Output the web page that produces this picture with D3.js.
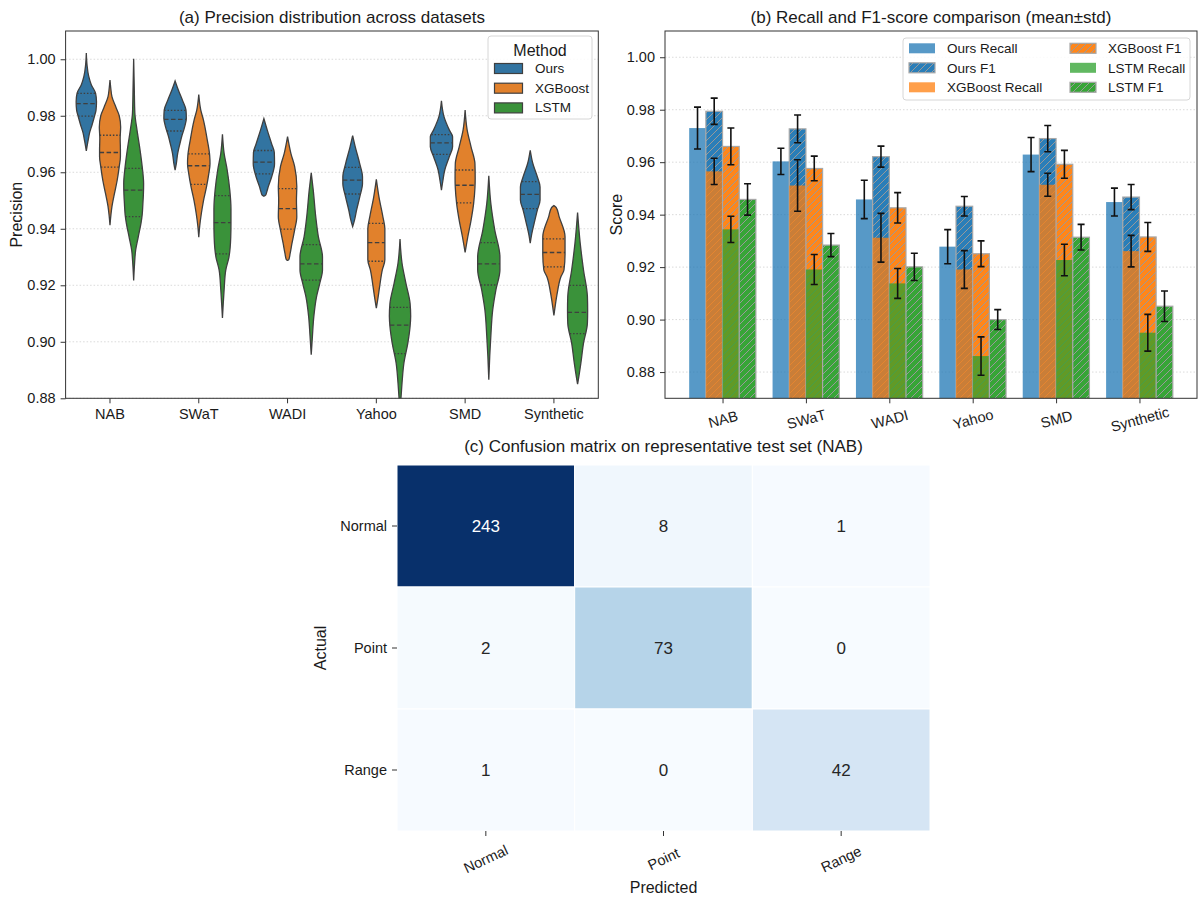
<!DOCTYPE html>
<html lang="en">
<head>
<meta charset="utf-8">
<title>Precision, recall and confusion matrix</title>
<script src="https://d3js.org/d3.v7.min.js"></script>
<style>
  body { margin: 0; background: #fff; }
  svg text { font-family: "Liberation Sans", Arial, sans-serif; fill: #1a1a1a; }
</style>
</head>
<body>
<svg id="chart" width="1200" height="898"></svg>
<script>
var datasets = ["NAB", "SWaT", "WADI", "Yahoo", "SMD", "Synthetic"];
var methods = ["Ours", "XGBoost", "LSTM"];
var precisionTicks = [0.88, 0.90, 0.92, 0.94, 0.96, 0.98, 1.00];
var scoreTicks = [0.88, 0.90, 0.92, 0.94, 0.96, 0.98, 1.00];

// violin outlines: [precision, relative density]
var oursViolin = [
  [[1.0022,0],[0.998,0.06],[0.994,0.2],[0.991,0.42],[0.988,0.78],[0.985,0.86],[0.982,0.82],[0.980,0.7],[0.977,0.5],[0.974,0.28],[0.971,0.14],[0.9676,0]],
  [[0.9923,0],[0.989,0.28],[0.9855,0.62],[0.982,0.92],[0.979,0.95],[0.976,0.8],[0.973,0.58],[0.970,0.4],[0.9667,0.22],[0.963,0.1],[0.9608,0]],
  [[0.979,0],[0.975,0.28],[0.970,0.66],[0.967,0.88],[0.963,0.9],[0.9584,0.66],[0.955,0.38],[0.953,0.24],[0.952,0.16],[0.9515,0]],
  [[0.973,0],[0.969,0.22],[0.963,0.6],[0.9584,0.83],[0.956,0.83],[0.9513,0.6],[0.9466,0.33],[0.943,0.15],[0.9408,0]],
  [[0.9853,0],[0.9796,0.22],[0.975,0.66],[0.9726,0.94],[0.969,0.94],[0.9655,0.66],[0.9608,0.28],[0.957,0.12],[0.9537,0]],
  [[0.9678,0],[0.9631,0.22],[0.9584,0.6],[0.9548,0.83],[0.9502,0.83],[0.9466,0.6],[0.9419,0.33],[0.938,0.12],[0.9349,0]]
];
var xgbViolin = [
  [[0.9926,0],[0.990,0.06],[0.9867,0.17],[0.983,0.5],[0.980,0.78],[0.976,0.9],[0.972,0.86],[0.968,0.88],[0.9655,0.88],[0.962,0.78],[0.957,0.6],[0.9525,0.38],[0.948,0.17],[0.945,0.08],[0.9413,0]],
  [[0.9875,0],[0.982,0.17],[0.9784,0.4],[0.9714,0.72],[0.966,0.92],[0.963,0.95],[0.9596,0.85],[0.955,0.66],[0.950,0.4],[0.9455,0.22],[0.941,0.08],[0.937,0]],
  [[0.9726,0],[0.9667,0.28],[0.962,0.6],[0.955,0.78],[0.950,0.75],[0.9443,0.78],[0.9396,0.6],[0.935,0.38],[0.9313,0.22],[0.929,0.1],[0.9288,0]],
  [[0.9575,0],[0.9513,0.22],[0.9443,0.55],[0.940,0.72],[0.935,0.72],[0.929,0.72],[0.9254,0.5],[0.9196,0.28],[0.915,0.12],[0.9119,0]],
  [[0.982,0],[0.975,0.17],[0.969,0.5],[0.963,0.83],[0.958,0.85],[0.9545,0.83],[0.949,0.72],[0.943,0.5],[0.937,0.22],[0.9316,0]],
  [[0.9482,0],[0.9475,0.2],[0.9443,0.44],[0.9372,0.94],[0.931,0.94],[0.9254,0.85],[0.9231,0.6],[0.9172,0.28],[0.913,0.12],[0.9093,0]]
];
var lstmViolin = [
  [[1.0002,0],[0.99,0.05],[0.981,0.1],[0.975,0.28],[0.969,0.5],[0.962,0.72],[0.956,0.84],[0.952,0.82],[0.949,0.78],[0.945,0.72],[0.942,0.62],[0.937,0.38],[0.9325,0.17],[0.928,0.08],[0.9217,0]],
  [[0.9734,0],[0.9667,0.14],[0.9608,0.4],[0.9537,0.62],[0.947,0.72],[0.942,0.72],[0.937,0.7],[0.930,0.55],[0.9254,0.28],[0.9184,0.14],[0.913,0.06],[0.9084,0]],
  [[0.9598,0],[0.9537,0.17],[0.9443,0.38],[0.9372,0.6],[0.930,0.95],[0.9254,0.95],[0.9207,0.72],[0.916,0.45],[0.909,0.22],[0.902,0.1],[0.8954,0]],
  [[0.9364,0],[0.9278,0.17],[0.9207,0.5],[0.9136,0.85],[0.909,0.9],[0.9054,0.85],[0.8995,0.66],[0.8925,0.33],[0.8854,0.17],[0.88,0.08],[0.876,0]],
  [[0.9588,0],[0.949,0.17],[0.9396,0.5],[0.930,0.94],[0.9254,0.94],[0.9184,0.6],[0.9113,0.33],[0.9019,0.17],[0.895,0.08],[0.8866,0]],
  [[0.9457,0],[0.9349,0.22],[0.9254,0.5],[0.916,0.83],[0.911,0.85],[0.9066,0.83],[0.8995,0.5],[0.8925,0.28],[0.888,0.12],[0.885,0]]
];
// [Q1, median, Q3]
var oursQuartiles = [[0.9799,0.9843,0.9879],[0.9746,0.9787,0.9819],[0.9594,0.9636,0.9677],[0.9523,0.9572,0.9617],[0.9663,0.9704,0.9733],[0.9471,0.9522,0.9567]];
var xgbQuartiles = [[0.9618,0.967,0.9731],[0.9557,0.9623,0.9665],[0.9399,0.9471,0.9542],[0.9285,0.9351,0.9419],[0.9492,0.9554,0.9608],[0.9265,0.9316,0.9364]];
var lstmQuartiles = [[0.9443,0.9537,0.9614],[0.9311,0.9422,0.9517],[0.9218,0.9276,0.9344],[0.8958,0.9059,0.9122],[0.9201,0.9276,0.9351],[0.9029,0.9104,0.92]];

// recall / F1 means and stds
var oursRecall = [0.973, 0.9603, 0.9458, 0.9278, 0.9629, 0.9448];
var oursRecallStd = [0.008, 0.005, 0.0073, 0.0065, 0.0065, 0.0053];
var oursF1 = [0.9794, 0.9727, 0.9621, 0.9432, 0.969, 0.9467];
var oursF1Std = [0.005, 0.0053, 0.004, 0.0037, 0.005, 0.0048];
var xgbRecall = [0.9565, 0.9511, 0.9312, 0.9191, 0.9514, 0.9261];
var xgbRecallStd = [0.005, 0.0098, 0.0093, 0.0072, 0.0044, 0.006];
var xgbF1 = [0.966, 0.9576, 0.9426, 0.9251, 0.9592, 0.9315];
var xgbF1Std = [0.007, 0.0047, 0.0058, 0.0049, 0.0053, 0.0055];
var lstmRecall = [0.9344, 0.9191, 0.9138, 0.8861, 0.9227, 0.895];
var lstmRecallStd = [0.005, 0.0057, 0.0057, 0.0073, 0.006, 0.007];
var lstmF1 = [0.9458, 0.9284, 0.9201, 0.900, 0.9314, 0.9051];
var lstmF1Std = [0.006, 0.0044, 0.0052, 0.0038, 0.0049, 0.0058];

var classes = ["Normal", "Point", "Range"];
var confusion = [[243, 8, 1], [2, 73, 0], [1, 0, 42]];

var svg = d3.select("#chart");
var axisColor = "#333";

function styleAxis(g) {
  g.select(".domain").remove();
  g.selectAll(".tick line").attr("stroke", axisColor);
  g.selectAll(".tick text").attr("font-size", 14.5).attr("fill", "#1a1a1a");
}

function widthAt(prof, v) {
  for (var k = 0; k < prof.length - 1; k++) {
    var a = prof[k], b = prof[k + 1];
    if (v <= a[0] && v >= b[0]) {
      var t = (a[0] - v) / (a[0] - b[0]);
      return a[1] + t * (b[1] - a[1]);
    }
  }
  return 0;
}

var defs = svg.append("defs");

// ---------- (a) violins ----------
var A = {left: 65.6, right: 598.3, top: 31, bottom: 398.3};
var xa = d3.scaleBand().domain(datasets).range([A.left, A.right]).padding(0);
var ya = d3.scaleLinear().domain([0.88, 1.01]).range([A.bottom, A.top]);
var violinColors = ["#3274a1", "#e1812c", "#3a923a"];
var violinData = [oursViolin, xgbViolin, lstmViolin];
var quartileData = [oursQuartiles, xgbQuartiles, lstmQuartiles];

defs.append("clipPath").attr("id", "clipA").append("rect")
  .attr("x", A.left).attr("y", A.top).attr("width", A.right - A.left).attr("height", A.bottom - A.top);

var ga = svg.append("g");
ga.selectAll(".grid").data(precisionTicks).join("line")
  .attr("x1", A.left).attr("x2", A.right)
  .attr("y1", function (d) { return ya(d); }).attr("y2", function (d) { return ya(d); })
  .attr("stroke", "#d0d0d0").attr("stroke-width", 0.8).attr("stroke-dasharray", "1.5,2");

var gv = ga.append("g").attr("clip-path", "url(#clipA)");
var dodge = xa.bandwidth() * 0.8 / 3;
var halfW = d3.scaleLinear().domain([0, 1]).range([0, dodge / 2]);

methods.forEach(function (m, j) {
  datasets.forEach(function (ds, i) {
    var cx = xa(ds) + xa.bandwidth() / 2 + (j - 1) * dodge;
    var prof = violinData[j][i];
    var area = d3.area().curve(d3.curveMonotoneY)
      .y(function (d) { return ya(d[0]); })
      .x0(function (d) { return cx - halfW(d[1]); })
      .x1(function (d) { return cx + halfW(d[1]); });
    gv.append("path").attr("d", area(prof))
      .attr("fill", violinColors[j]).attr("stroke", "#3f3f3f").attr("stroke-width", 1.3);
    quartileData[j][i].forEach(function (q, k) {
      var w = halfW(widthAt(prof, q));
      gv.append("line")
        .attr("x1", cx - w).attr("x2", cx + w).attr("y1", ya(q)).attr("y2", ya(q))
        .attr("stroke", "#3f3f3f").attr("stroke-width", 1.3)
        .attr("stroke-dasharray", k === 1 ? "4.5,2.5" : "1.5,1.8");
    });
  });
});

ga.append("g").attr("transform", "translate(0," + A.bottom + ")")
  .call(d3.axisBottom(xa).tickSize(5).tickPadding(5).tickSizeOuter(0)).call(styleAxis);
ga.append("g").attr("transform", "translate(" + A.left + ",0)")
  .call(d3.axisLeft(ya).tickValues(precisionTicks).tickFormat(d3.format(".2f")).tickSize(5).tickPadding(5))
  .call(styleAxis);
ga.append("rect").attr("x", A.left).attr("y", A.top).attr("width", A.right - A.left).attr("height", A.bottom - A.top)
  .attr("fill", "none").attr("stroke", axisColor).attr("stroke-width", 1);
ga.append("text").attr("x", (A.left + A.right) / 2).attr("y", 23).attr("text-anchor", "middle")
  .attr("font-size", 17).text("(a) Precision distribution across datasets");
ga.append("text").attr("transform", "translate(22," + (A.top + A.bottom) / 2 + ") rotate(-90)")
  .attr("text-anchor", "middle").attr("font-size", 16).text("Precision");

// legend (a)
var la = ga.append("g").attr("transform", "translate(488,36)");
la.append("rect").attr("width", 104).attr("height", 83).attr("rx", 3)
  .attr("fill", "#fff").attr("fill-opacity", 0.85).attr("stroke", "#d6d6d6");
la.append("text").attr("x", 52).attr("y", 20).attr("text-anchor", "middle").attr("font-size", 16).text("Method");
methods.forEach(function (m, j) {
  var yy = 32 + j * 19.7;
  la.append("rect").attr("x", 6.5).attr("y", yy - 5 + 0.5).attr("width", 28).attr("height", 10)
    .attr("fill", violinColors[j]).attr("stroke", "#3f3f3f").attr("stroke-width", 1.2);
  la.append("text").attr("x", 47).attr("y", yy + 5).attr("font-size", 13.5).text(m);
});

// ---------- (b) grouped bars ----------
var B = {left: 665, right: 1197, top: 31, bottom: 398.3};
var xb = d3.scaleLinear().domain([-0.69, 5.69]).range([B.left, B.right]);
var yb = d3.scaleLinear().domain([0.87, 1.01]).range([B.bottom, B.top]);
var barColors = ["#1f77b4", "#ff7f0e", "#2ca02c"];
var barW = 0.2;

var pat = defs.append("pattern").attr("id", "hatch").attr("patternUnits", "userSpaceOnUse")
  .attr("width", 7).attr("height", 7);
pat.append("path").attr("d", "M-1,1 l2,-2 M0,7 l7,-7 M6,8 l2,-2")
  .attr("stroke", "#999").attr("stroke-width", 1);

defs.append("clipPath").attr("id", "clipB").append("rect")
  .attr("x", B.left).attr("y", B.top).attr("width", B.right - B.left).attr("height", B.bottom - B.top);

var series = [
  {name: "Ours Recall", vals: oursRecall, std: oursRecallStd, color: barColors[0], f1: false, slot: -1.5},
  {name: "Ours F1", vals: oursF1, std: oursF1Std, color: barColors[0], f1: true, slot: -0.5},
  {name: "XGBoost Recall", vals: xgbRecall, std: xgbRecallStd, color: barColors[1], f1: false, slot: -0.5},
  {name: "XGBoost F1", vals: xgbF1, std: xgbF1Std, color: barColors[1], f1: true, slot: 0.5},
  {name: "LSTM Recall", vals: lstmRecall, std: lstmRecallStd, color: barColors[2], f1: false, slot: 0.5},
  {name: "LSTM F1", vals: lstmF1, std: lstmF1Std, color: barColors[2], f1: true, slot: 1.5}
];

var gb = svg.append("g");
gb.selectAll(".grid").data(scoreTicks).join("line")
  .attr("x1", B.left).attr("x2", B.right)
  .attr("y1", function (d) { return yb(d); }).attr("y2", function (d) { return yb(d); })
  .attr("stroke", "#d0d0d0").attr("stroke-width", 0.8).attr("stroke-dasharray", "1.5,2");

var gbars = gb.append("g").attr("clip-path", "url(#clipB)");
series.forEach(function (s) {
  s.vals.forEach(function (v, i) {
    var x0 = xb(i + s.slot * barW - barW / 2), x1 = xb(i + s.slot * barW + barW / 2);
    var r = gbars.append("rect").attr("x", x0).attr("y", yb(v)).attr("width", x1 - x0)
      .attr("height", B.bottom + 2 - yb(v))
      .attr("fill", s.color).attr("fill-opacity", s.f1 ? 0.95 : 0.75);
    if (s.f1) {
      gbars.append("rect").attr("x", x0).attr("y", yb(v)).attr("width", x1 - x0)
        .attr("height", B.bottom + 2 - yb(v))
        .attr("fill", "url(#hatch)").attr("stroke", "#a8a8a8").attr("stroke-width", 1.2);
    }
  });
});
series.forEach(function (s) {
  s.vals.forEach(function (v, i) {
    var cx = xb(i + s.slot * barW), lo = yb(v - s.std[i]), hi = yb(v + s.std[i]);
    gbars.append("path")
      .attr("d", "M" + cx + "," + lo + "V" + hi + "M" + (cx - 3.5) + "," + lo + "H" + (cx + 3.5) + "M" + (cx - 3.5) + "," + hi + "H" + (cx + 3.5))
      .attr("stroke", "#111").attr("stroke-width", 1.6).attr("fill", "none");
  });
});

var xbAxis = gb.append("g").attr("transform", "translate(0," + B.bottom + ")")
  .call(d3.axisBottom(xb).tickValues(d3.range(datasets.length)).tickFormat(function (d) { return datasets[d]; })
    .tickSize(5).tickPadding(5).tickSizeOuter(0))
  .call(styleAxis);
xbAxis.selectAll(".tick text").attr("y", 0).attr("dy", 0)
  .attr("transform", "translate(0,21) rotate(-15)").attr("dy", "0.35em");
gb.append("g").attr("transform", "translate(" + B.left + ",0)")
  .call(d3.axisLeft(yb).tickValues(scoreTicks).tickFormat(d3.format(".2f")).tickSize(5).tickPadding(5))
  .call(styleAxis);
gb.append("rect").attr("x", B.left).attr("y", B.top).attr("width", B.right - B.left).attr("height", B.bottom - B.top)
  .attr("fill", "none").attr("stroke", axisColor).attr("stroke-width", 1);
gb.append("text").attr("x", (B.left + B.right) / 2).attr("y", 23).attr("text-anchor", "middle")
  .attr("font-size", 17).text("(b) Recall and F1-score comparison (mean\u00b1std)");
gb.append("text").attr("transform", "translate(622," + (B.top + B.bottom) / 2 + ") rotate(-90)")
  .attr("text-anchor", "middle").attr("font-size", 16).text("Score");

// legend (b)
var lb = gb.append("g").attr("transform", "translate(903,38)");
lb.append("rect").attr("width", 287).attr("height", 62).attr("rx", 3)
  .attr("fill", "#fff").attr("fill-opacity", 0.85).attr("stroke", "#d6d6d6");
series.forEach(function (s, k) {
  var col = Math.floor(k / 3), row = k % 3;
  var px = 6 + col * 161, py = 10.3 + row * 19.5;
  lb.append("rect").attr("x", px).attr("y", py - 5).attr("width", 26).attr("height", 10)
    .attr("fill", s.color).attr("fill-opacity", s.f1 ? 0.95 : 0.75);
  if (s.f1) {
    lb.append("rect").attr("x", px).attr("y", py - 5).attr("width", 26).attr("height", 10)
      .attr("fill", "url(#hatch)").attr("stroke", "#a8a8a8").attr("stroke-width", 1.2);
  }
  lb.append("text").attr("x", px + 38).attr("y", py + 5).attr("font-size", 13.5).text(s.name);
});

// ---------- (c) confusion matrix ----------
var C = {left: 397, right: 930, top: 465, bottom: 831};
var xc = d3.scaleBand().domain(classes).range([C.left, C.right]);
var yc = d3.scaleBand().domain(classes).range([C.top, C.bottom]);
var blues = d3.scaleLinear()
  .domain(d3.range(9).map(function (k) { return 243 * k / 8; }))
  .range(["#f7fbff", "#deebf7", "#c6dbef", "#9ecae1", "#6baed6", "#4292c6", "#2171b5", "#08519c", "#08306b"]);

var gc = svg.append("g");
var cells = [];
confusion.forEach(function (row, r) {
  row.forEach(function (v, c) { cells.push({r: classes[r], c: classes[c], v: v}); });
});
gc.selectAll(".cell").data(cells).join("rect")
  .attr("x", function (d) { return xc(d.c); }).attr("y", function (d) { return yc(d.r); })
  .attr("width", xc.bandwidth()).attr("height", yc.bandwidth())
  .attr("fill", function (d) { return blues(d.v); }).attr("stroke", "#fff").attr("stroke-width", 1);
gc.selectAll(".annot").data(cells).join("text")
  .attr("x", function (d) { return xc(d.c) + xc.bandwidth() / 2; })
  .attr("y", function (d) { return yc(d.r) + yc.bandwidth() / 2; })
  .attr("dy", "0.36em").attr("text-anchor", "middle").attr("font-size", 17)
  .style("fill", function (d) { return d.v > 140 ? "#fff" : "#262626"; })
  .text(function (d) { return d.v; });

var xcAxis = gc.append("g").attr("transform", "translate(0," + C.bottom + ")")
  .call(d3.axisBottom(xc).tickSize(5).tickSizeOuter(0)).call(styleAxis);
xcAxis.selectAll(".tick text").attr("y", 0)
  .attr("transform", "translate(0,28) rotate(-25)").attr("dy", "0.35em");
gc.append("g").attr("transform", "translate(" + C.left + ",0)")
  .call(d3.axisLeft(yc).tickSize(5).tickPadding(5).tickSizeOuter(0)).call(styleAxis);
gc.append("text").attr("x", (C.left + C.right) / 2).attr("y", 452).attr("text-anchor", "middle")
  .attr("font-size", 17).text("(c) Confusion matrix on representative test set (NAB)");
gc.append("text").attr("x", (C.left + C.right) / 2).attr("y", 893).attr("text-anchor", "middle")
  .attr("font-size", 16).text("Predicted");
gc.append("text").attr("transform", "translate(326," + (C.top + C.bottom) / 2 + ") rotate(-90)")
  .attr("text-anchor", "middle").attr("font-size", 16).text("Actual");
</script>
</body>
</html>
